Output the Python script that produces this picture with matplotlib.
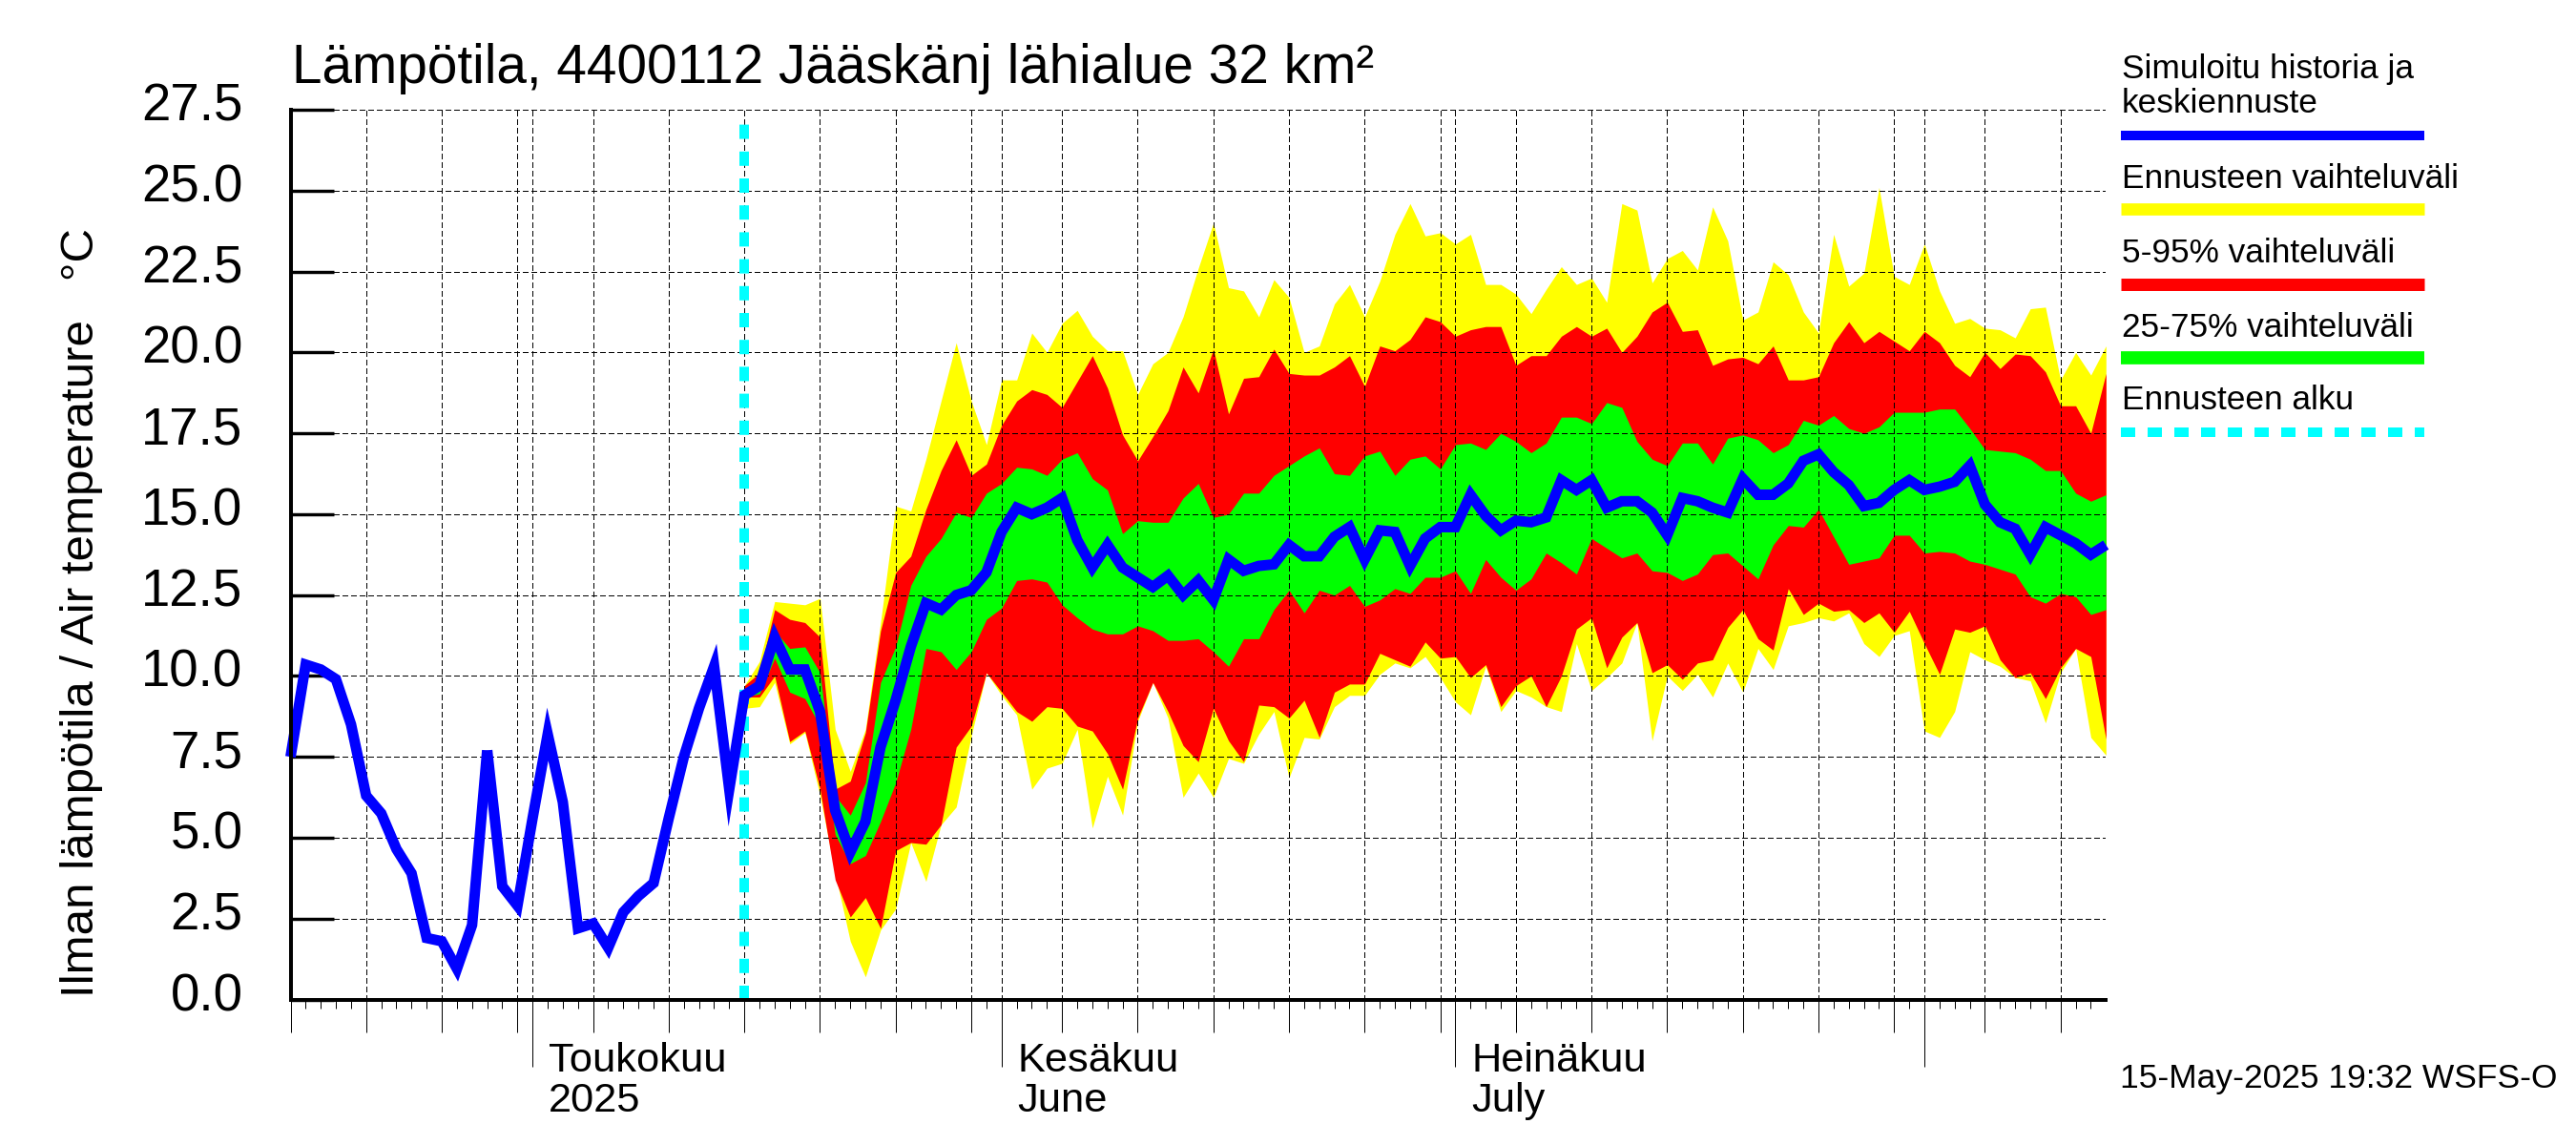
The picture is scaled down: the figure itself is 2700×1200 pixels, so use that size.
import matplotlib
matplotlib.use("Agg")
import matplotlib.pyplot as plt
from matplotlib.lines import Line2D
from matplotlib.transforms import ScaledTranslation
import numpy as np

plt.rcParams['font.family'] = ['Liberation Sans', 'DejaVu Sans']
plt.rcParams['lines.scale_dashes'] = False

# Day numbers: 0 = 15 Apr 2025, 120 = 13 Aug 2025, forecast starts on day 30
forecast_start = 30
month_days = [16, 47, 77, 108]
month_labels = ["Toukokuu\n2025", "Kesäkuu\nJune", "Heinäkuu\nJuly", ""]
five_day_ticks = [0, 5, 10, 15, 20, 25, 30, 35, 40, 45, 51, 56, 61, 66, 71, 76, 81, 86, 91, 96, 101, 106, 112, 117, 120]
y_ticks = [0, 2.5, 5, 7.5, 10, 12.5, 15, 17.5, 20, 22.5, 25, 27.5]
y_tick_labels = ["0.0", "2.5", "5.0", "7.5", "10.0", "12.5", "15.0", "17.5", "20.0", "22.5", "25.0", "27.5"]

blue = [7.5, 10.35, 10.2, 9.9, 8.5, 6.3, 5.75, 4.65, 3.9, 1.9, 1.8, 0.95, 2.3, 7.7, 3.5, 2.9, 5.6, 8.2, 6.1, 2.2,
        2.35, 1.6, 2.7, 3.2, 3.6, 5.6, 7.5, 9.0, 10.3, 6.5,
        9.4, 9.7, 11.2, 10.2, 10.2, 8.9, 5.85, 4.55, 5.5, 7.8, 9.25, 10.9, 12.25, 12.05, 12.5, 12.65, 13.2,
        14.45, 15.2, 15.0, 15.2, 15.5, 14.2, 13.35, 14.05, 13.35, 13.05, 12.75, 13.1, 12.5, 12.95, 12.35, 13.6, 13.25, 13.4, 13.45,
        14.05, 13.7, 13.7, 14.3, 14.6, 13.6, 14.5, 14.45, 13.4, 14.25, 14.6, 14.6, 15.6, 14.95, 14.5, 14.8, 14.75, 14.9, 16.05, 15.75, 16.05, 15.2,
        15.4, 15.4, 15.05, 14.35, 15.5, 15.4, 15.2, 15.05, 16.1, 15.6, 15.6, 15.95, 16.65, 16.85, 16.3, 15.9, 15.25, 15.35, 15.75, 16.05, 15.75, 15.85, 16.0,
        16.5, 15.3, 14.75, 14.55, 13.75, 14.6, 14.35, 14.1, 13.75, 14.05]
blunt_peak_day = 13  # the sharpest peak of the line ends blunt in the original

yellow_top = [9.7, 10.45, 12.3, 12.25, 12.2, 12.4, 8.35, 7.05, 8.35, 11.65, 15.25, 15.1, 16.7, 18.5, 20.3, 18.5, 17.15,
              19.15, 19.15, 20.6, 20.0, 20.9, 21.3, 20.5, 20.05, 20.05, 18.7, 19.65, 20.0, 21.1, 22.6, 24.0, 22.0, 21.9, 21.1, 22.25, 21.7,
              20.0, 20.2, 21.5, 22.1, 21.1, 22.2, 23.65, 24.6, 23.6, 23.7, 23.35, 23.65, 22.1, 22.1, 21.8, 21.2, 21.95, 22.65, 22.1, 22.3, 21.55,
              24.6, 24.4, 22.15, 22.9, 23.15, 22.55, 24.5, 23.45, 21.0, 21.25, 22.8, 22.4, 21.25, 20.6, 23.65, 22.05, 22.45, 25.1, 22.35, 22.1,
              23.35, 21.9, 20.9, 21.05, 20.75, 20.7, 20.45, 21.35, 21.4, 19.15, 20.0, 19.3, 20.2]
yellow_bottom = [9.0, 9.05, 9.8, 7.9, 8.25, 6.3, 3.9, 1.8, 0.7, 2.15, 2.8, 4.85, 3.65, 5.4, 5.95, 8.15, 10.1,
                 9.4, 8.8, 6.5, 7.15, 7.3, 8.35, 5.3, 6.9, 5.7, 8.6, 9.8, 8.7, 6.25, 7.0, 6.25, 7.45, 7.3, 8.2, 8.9, 6.85,
                 8.1, 8.05, 9.05, 9.4, 9.4, 10.05, 10.4, 10.25, 10.6, 9.95, 9.2, 8.8, 10.3, 8.9, 9.55, 9.35, 9.05, 8.9, 11.0, 9.55, 9.95,
                 10.4, 11.65, 8.0, 10.0, 9.55, 10.05, 9.35, 10.4, 9.5, 10.85, 10.2, 11.55, 11.65, 11.8, 11.7, 11.95, 11.0, 10.6, 11.25, 11.4,
                 8.3, 8.1, 8.9, 10.75, 10.5, 10.3, 9.95, 9.85, 8.55, 10.1, 10.85, 8.1, 7.55]
red_top = [9.7, 10.1, 12.05, 11.75, 11.65, 11.2, 6.5, 6.75, 8.25, 11.4, 13.2, 13.7, 15.15, 16.35, 17.3, 16.2, 16.55,
           17.75, 18.5, 18.85, 18.7, 18.3, 19.1, 19.9, 18.9, 17.45, 16.65, 17.4, 18.2, 19.55, 18.75, 20.1, 18.1, 19.2, 19.25, 20.1, 19.35,
           19.3, 19.3, 19.55, 19.9, 18.95, 20.2, 20.05, 20.4, 21.1, 20.95, 20.5, 20.7, 20.8, 20.8, 19.6, 19.9, 19.9, 20.5, 20.8, 20.5, 20.75,
           20.0, 20.5, 21.25, 21.55, 20.65, 20.7, 19.6, 19.8, 19.85, 19.65, 20.2, 19.15, 19.15, 19.25, 20.3, 20.95, 20.3, 20.65, 20.35, 20.05,
           20.65, 20.3, 19.6, 19.25, 20.0, 19.5, 19.95, 19.9, 19.4, 18.35, 18.35, 17.5, 19.35]
red_bottom = [9.35, 9.35, 10.0, 7.97, 8.3, 6.5, 3.7, 2.55, 3.15, 2.2, 4.6, 4.85, 4.8, 5.4, 7.8, 8.45, 10.1,
              9.5, 8.9, 8.6, 9.05, 9.0, 8.45, 8.3, 7.6, 6.5, 8.7, 9.8, 8.9, 7.85, 7.35, 9.0, 8.0, 7.35, 9.1, 9.05, 8.7,
              9.25, 8.1, 9.5, 9.75, 9.75, 10.7, 10.5, 10.3, 11.05, 10.55, 10.6, 9.95, 10.35, 9.05, 9.7, 10.0, 9.05, 10.0, 11.45, 11.8, 10.25,
              11.2, 11.65, 10.1, 10.35, 9.9, 10.4, 10.5, 11.5, 12.05, 11.15, 10.8, 12.7, 11.9, 12.25, 12.0, 12.05, 11.65, 11.95, 11.35, 12.0,
              11.0, 10.05, 11.45, 11.35, 11.55, 10.5, 9.95, 10.1, 9.3, 10.25, 10.85, 10.6, 8.05]
green_top = [9.6, 9.8, 11.4, 10.85, 10.9, 10.1, 6.3, 5.7, 6.7, 9.8, 10.9, 12.8, 13.7, 14.25, 15.05, 14.9, 15.65,
             15.95, 16.45, 16.4, 16.2, 16.7, 16.9, 16.1, 15.75, 14.4, 14.8, 14.75, 14.75, 15.5, 15.95, 14.9, 15.0, 15.65, 15.65, 16.2, 16.5,
             16.8, 17.05, 16.25, 16.2, 16.8, 16.95, 16.2, 16.7, 16.8, 16.4, 17.15, 17.2, 17.0, 17.5, 17.25, 16.9, 17.2, 18.0, 18.0, 17.8, 18.45,
             18.3, 17.25, 16.7, 16.5, 17.2, 17.2, 16.55, 17.35, 17.45, 17.3, 16.9, 17.15, 17.9, 17.75, 18.05, 17.65, 17.5, 17.7, 18.15, 18.15,
             18.15, 18.25, 18.25, 17.65, 17.0, 16.95, 16.9, 16.7, 16.35, 16.35, 15.65, 15.4, 15.6]
green_bottom = [9.35, 9.45, 10.55, 9.5, 9.3, 8.45, 5.1, 4.2, 4.45, 5.5, 6.7, 8.35, 10.85, 10.75, 10.2, 10.75, 11.75,
                12.1, 12.95, 13.0, 12.9, 12.2, 11.8, 11.45, 11.3, 11.3, 11.55, 11.4, 11.1, 11.1, 11.15, 10.75, 10.3, 11.15, 11.15, 12.05, 12.65,
                11.95, 12.65, 12.5, 12.8, 12.15, 12.35, 12.7, 12.55, 13.05, 13.05, 13.25, 12.55, 13.6, 13.05, 12.65, 13.0, 13.8, 13.5, 13.15, 14.25, 13.95,
                13.65, 13.8, 13.25, 13.2, 12.95, 13.15, 13.75, 13.8, 13.4, 13.0, 14.05, 14.65, 14.6, 15.15, 14.3, 13.45, 13.55, 13.65, 14.35, 14.35,
                13.8, 13.85, 13.8, 13.55, 13.45, 13.3, 13.15, 12.45, 12.25, 12.55, 12.45, 11.9, 12.05]

title = "Lämpötila, 4400112 Jääskänj lähialue 32 km²"
ylabel = "Ilman lämpötila / Air temperature   °C"
stamp = "15-May-2025 19:32 WSFS-O"
legend_rows = [("Simuloitu historia ja\nkeskiennuste", "#0000ff", 142, 10, 118),
               ("Ennusteen vaihteluväli", "#ffff00", 219.3, 12.7, 196.7),
               ("5-95% vaihteluväli", "#ff0000", 297.5, 13, 275),
               ("25-75% vaihteluväli", "#00ff00", 375, 13.7, 352.7),
               ("Ennusteen alku", "#00ffff", 453, 10, 429)]

W, H = 2700, 1200
DPI = 100
px = 72 / DPI
fig = plt.figure(figsize=(W / DPI, H / DPI), dpi=DPI, facecolor="white")
L, R, T, B = 304.5, 2207.3, 115, 1047.5
ax = fig.add_axes([L / W, 1 - B / H, (R - L) / W, (B - T) / H])
days = np.arange(len(blue))
fdays = np.arange(forecast_start, forecast_start + len(yellow_top))

ax.fill_between(fdays, yellow_bottom, yellow_top, color="#ffff00", lw=0, zorder=1)
ax.fill_between(fdays, red_bottom, red_top, color="#ff0000", lw=0, zorder=1.1)
ax.fill_between(fdays, green_bottom, green_top, color="#00ff00", lw=0, zorder=1.2)

ax.set_xlim(0, 120)
ax.set_ylim(0, 27.5)
for s in ("top", "right"):
    ax.spines[s].set_visible(False)
for s in ("left", "bottom"):
    ax.spines[s].set_linewidth(4 * px)
    ax.spines[s].set_zorder(6)

grid_style = dict(color="black", lw=0.8, ls=(0, (4, 2.2)), zorder=2, antialiased=False)
for v in y_ticks[1:]:
    ax.plot([0, 120], [v, v], **grid_style)
for d in five_day_ticks[1:] + month_days:
    ax.plot([d, d], [0, 27.5], **grid_style)

ax.plot([forecast_start, forecast_start], [0, 27.15], color="#00ffff", lw=10 * px,
        ls=(0, (15 * px, 13.2 * px)), dash_capstyle="butt", zorder=3)
blue_style = dict(color="#0000ff", lw=11 * px, solid_joinstyle="miter", solid_capstyle="butt",
                  clip_on=False, zorder=4)
ax.plot(days[:blunt_peak_day + 1], blue[:blunt_peak_day + 1], **blue_style)
ax.plot(days[blunt_peak_day:], blue[blunt_peak_day:], **blue_style)

# y axis
ax.set_yticks(y_ticks)
ax.set_yticklabels(y_tick_labels, fontsize=39.3)
ax.tick_params(axis="y", direction="in", length=45 * px, width=3.4 * px, pad=(305 - 255) * px)
shift = ScaledTranslation(0, 8.5 / DPI, fig.dpi_scale_trans)
for lab in ax.get_yticklabels():
    lab.set_transform(lab.get_transform() + shift)

# x axis
ax.set_xticks(sorted(set(five_day_ticks[:-1] + month_days)))
ax.set_xticks(days[:-1], minor=True)
ax.tick_params(axis="x", which="minor", length=9 * px, width=1 * px)
ax.tick_params(axis="x", which="major", length=34 * px, width=1 * px, labelbottom=False)
for t, d in zip(ax.xaxis.get_major_ticks(), ax.get_xticks()):
    if d in month_days:
        t.tick1line.set_markersize(70 * px)

for d, lab in zip(month_days, month_labels):
    if lab:
        ax.annotate(lab, xy=(d, 0), xycoords="data", xytext=(17 * px, -(1165 - B) * px),
                    textcoords="offset points", ha="left", va="baseline", fontsize=31.2,
                    linespacing=1.08, annotation_clip=False)

fig.text(306 / W, 1 - 86.7 / H, title, fontsize=40.9, ha="left", va="baseline")
fig.text(108 / W, 1 - 1045 / H, ylabel, fontsize=35.5, rotation=90, ha="right", va="bottom")
fig.text(2680 / W, 1 - 1140 / H, stamp, fontsize=25.5, ha="right", va="baseline")

for text, col, yc, th, base in legend_rows:
    fig.text(2224 / W, 1 - base / H, text, fontsize=25.4, ha="left", va="baseline", linespacing=1.1)
    style = dict(ls=(0, (15 * px, 13 * px)), dash_capstyle="butt") if col == "#00ffff" else dict(solid_capstyle="butt")
    fig.add_artist(Line2D([2223 / W, 2541 / W], [1 - yc / H, 1 - yc / H], transform=fig.transFigure,
                          color=col, lw=th * px, **style))

fig.savefig("out.png", dpi=DPI, facecolor="white")
